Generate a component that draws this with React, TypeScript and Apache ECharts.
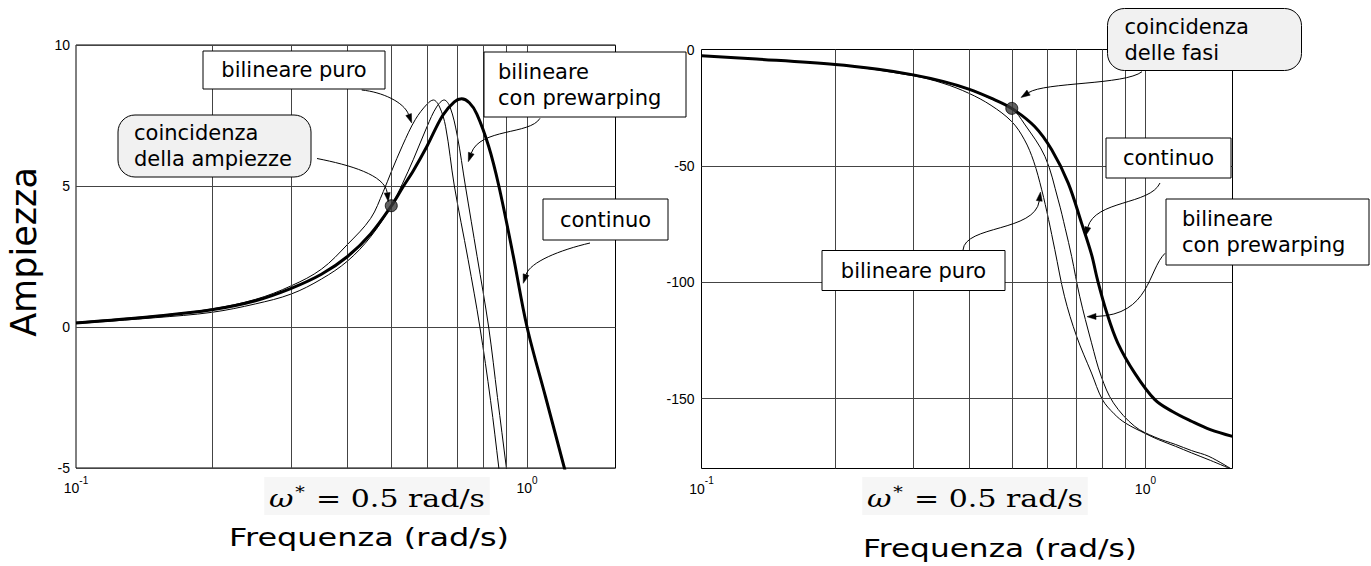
import React, { useEffect, useRef } from "react";
import * as echarts from "echarts";

// ---------------- data ----------------
const W_MIN = 0.1;
const W_MAX = 1.5708;
const FREQ_GRID = [0.2, 0.3, 0.4, 0.5, 0.6, 0.7, 0.8, 0.9, 1];
const AMP_MIN = -5;
const AMP_MAX = 10;
const AMP_STEP = 5;
const PHASE_MIN = -180;
const PHASE_MAX = 0;
const PHASE_STEP = 10;
const PHASE_LABEL_STEP = 50;
const PHASE_GRID = [-50, -100, -150];

// Amplitude (dB)
const ampContinuoW = [0.1, 0.15, 0.2, 0.25, 0.3, 0.35, 0.4, 0.45, 0.5, 0.53, 0.56, 0.6, 0.65, 0.69, 0.716, 0.745, 0.774, 0.822, 0.866, 0.93, 1.0, 1.1, 1.21, 1.3];
const ampContinuoDb = [0.14, 0.38, 0.61, 0.93, 1.37, 1.87, 2.5, 3.3, 4.29, 4.95, 5.55, 6.41, 7.5, 7.98, 8.09, 7.95, 7.55, 6.41, 5.0, 2.6, 0, -2.5, -5, -6.9];

const ampPuroW = [0.1, 0.15, 0.2, 0.25, 0.3, 0.35, 0.4, 0.45, 0.48, 0.5, 0.53, 0.565, 0.6, 0.62, 0.64, 0.66, 0.69, 0.74, 0.786, 0.83, 0.866, 0.92];
const ampPuroDb = [0.17, 0.4, 0.64, 0.98, 1.46, 2.05, 2.93, 3.85, 4.8, 5.5, 6.45, 7.35, 7.9, 8.05, 7.8, 7.1, 5.0, 2.4, 0, -2.6, -5, -8.5];

const ampPrewarpW = [0.1, 0.15, 0.2, 0.25, 0.3, 0.35, 0.4, 0.45, 0.5, 0.53, 0.56, 0.6, 0.63, 0.655, 0.675, 0.7, 0.73, 0.775, 0.822, 0.86, 0.9, 0.95];
const ampPrewarpDb = [0.12, 0.33, 0.52, 0.82, 1.17, 1.7, 2.34, 3.2, 4.29, 5.1, 5.95, 7.1, 7.8, 8.05, 7.8, 6.8, 5.0, 2.5, 0, -2.5, -5, -8];

// Phase (deg)
const phContinuoW = [0.1, 0.133, 0.2, 0.25, 0.3, 0.35, 0.4, 0.449, 0.5, 0.563, 0.615, 0.67, 0.718, 0.756, 0.78, 0.818, 0.866, 0.946, 1.05, 1.15, 1.27, 1.4, 1.5708];
const phContinuoDeg = [-2.7, -4.1, -6.4, -8.5, -10.9, -13.7, -17, -20.9, -25.3, -33.1, -43.1, -57.4, -74.6, -88, -99, -113, -126, -139, -150.4, -155.5, -159.7, -163.3, -166.2];

const phPuroW = [0.1, 0.2, 0.3, 0.35, 0.4, 0.449, 0.5, 0.534, 0.56, 0.584, 0.605, 0.625, 0.657, 0.7, 0.756, 0.8, 0.85, 0.9, 1.0, 1.07, 1.17, 1.27, 1.4, 1.5708];
const phPuroDeg = [-2.7, -6.5, -11.3, -14.5, -18.8, -24, -31, -38.8, -48, -60.3, -73, -86, -106, -123.3, -139, -150.4, -156.5, -160.4, -165, -167.6, -170.5, -173.3, -176.5, -180.5];

const phPrewarpW = [0.1, 0.2, 0.3, 0.4, 0.449, 0.5, 0.534, 0.594, 0.636, 0.66, 0.682, 0.711, 0.756, 0.795, 0.847, 0.946, 1.05, 1.17, 1.27, 1.39, 1.5708];
const phPrewarpDeg = [-2.7, -6.4, -10.9, -17.2, -21.2, -25.3, -32, -46, -64.6, -77, -88.9, -106, -126, -140.4, -151.8, -161.9, -166.5, -169.7, -172.3, -174.8, -180.5];

// coincidence points (w* = 0.5 rad/s)
const ampMarker = [0.5, 4.3];
const phaseMarker = [0.5, -25.3];

// ---------------- styles ----------------
const SANS = "'DejaVu Sans', 'Noto Sans', sans-serif";
const ARIAL = "'Liberation Sans', Arial, sans-serif";
const SERIF = "'DejaVu Serif', 'Liberation Serif', serif";
const GRID_COLOR = "#444";

function curve(xi: number, w: number[], v: number[], width: number) {
  return {
    type: "line",
    xAxisIndex: xi,
    yAxisIndex: xi,
    data: w.map((x, i) => [x, v[i]]),
    showSymbol: false,
    symbol: "none",
    smooth: 0.35,
    silent: true,
    clip: true,
    lineStyle: { color: "#000", width },
    z: width > 2 ? 5 : 4,
  };
}

function gridLines(xi: number, xs: number[], ys: number[]) {
  return {
    type: "line",
    xAxisIndex: xi,
    yAxisIndex: xi,
    data: [[W_MIN, xi === 0 ? 0 : -50]],
    symbol: "none",
    showSymbol: false,
    lineStyle: { opacity: 0 },
    silent: true,
    z: 1,
    markLine: {
      silent: true,
      symbol: ["none", "none"],
      label: { show: false },
      lineStyle: { color: GRID_COLOR, width: 1, type: "solid" },
      emphasis: { disabled: true },
      data: [...xs.map((x) => ({ xAxis: x })), ...ys.map((y) => ({ yAxis: y }))],
    },
  };
}

function marker(xi: number, p: number[]) {
  return {
    type: "scatter",
    xAxisIndex: xi,
    yAxisIndex: xi,
    data: [p],
    symbol: "circle",
    symbolSize: 12,
    silent: true,
    itemStyle: { color: "#3a3a3a", borderColor: "#000", borderWidth: 1 },
    z: 6,
  };
}

function xAxis(gi: number) {
  return {
    type: "log",
    logBase: 10,
    gridIndex: gi,
    min: W_MIN,
    max: W_MAX,
    axisLine: { show: false },
    axisTick: { show: false },
    splitLine: { show: false },
    axisLabel: {
      margin: 7,
      showMaxLabel: false,
      formatter: (v: number) => {
        const l = Math.log10(v);
        const e = Math.round(l);
        if (Math.abs(l - e) > 1e-6) return "";
        return `{b|10}{s|${e}}`;
      },
      rich: {
        b: { fontFamily: ARIAL, fontSize: 14, color: "#000", lineHeight: 20, verticalAlign: "bottom" },
        s: { fontFamily: ARIAL, fontSize: 10, color: "#000", lineHeight: 10, verticalAlign: "top" },
      },
    },
  };
}

function boxEl(x: number, y: number, w: number, h: number, text: string, opt: { round?: boolean; left?: number }) {
  const els: any[] = [
    {
      type: "rect",
      shape: { x, y, width: w, height: h, r: opt.round ? 17 : 0 },
      style: { fill: opt.round ? "#f1f1f1" : "#fff", stroke: "#000", lineWidth: 1 },
      z: 100,
    },
  ];
  const centered = opt.left === undefined;
  els.push({
    type: "text",
    x: centered ? x + w / 2 : x + (opt.left as number),
    y: y + h / 2,
    style: {
      text,
      fontFamily: SANS,
      fontSize: 21,
      lineHeight: 26,
      fill: "#000",
      align: centered ? "center" : "left",
      textAlign: centered ? "center" : "left",
      verticalAlign: "middle",
      textVerticalAlign: "middle",
    },
    z: 101,
  });
  return els;
}

function arrowEl(p: number[][]) {
  const [s, c1, c2, e] = p;
  const ang = Math.atan2(e[1] - c2[1], e[0] - c2[0]);
  const L = 9;
  const hw = 3;
  const bx = e[0] - L * Math.cos(ang);
  const by = e[1] - L * Math.sin(ang);
  const nx = -Math.sin(ang) * hw;
  const ny = Math.cos(ang) * hw;
  return [
    {
      type: "bezierCurve",
      shape: { x1: s[0], y1: s[1], cpx1: c1[0], cpy1: c1[1], cpx2: c2[0], cpy2: c2[1], x2: bx, y2: by },
      style: { stroke: "#000", lineWidth: 1, fill: null },
      z: 102,
    },
    {
      type: "polygon",
      shape: { points: [[e[0], e[1]], [bx + nx, by + ny], [bx - nx, by - ny]] },
      style: { fill: "#000", stroke: "#000", lineWidth: 0.5 },
      z: 102,
    },
  ];
}

function titleText(x: number, y: number, text: string, size: number, scaleX: number) {
  return {
    type: "text",
    x,
    y,
    scaleX,
    style: {
      text,
      fontFamily: SANS,
      fontSize: size,
      fill: "#000",
      align: "center",
      textAlign: "center",
      verticalAlign: "middle",
      textVerticalAlign: "middle",
    },
    z: 50,
  };
}

function mathText(x: number, y: number) {
  return {
    type: "text",
    x,
    y,
    scaleX: 1.2,
    style: {
      text: "{w|ω}{s|∗}{t| = 0.5 rad/s}",
      fill: "#000",
      align: "center",
      textAlign: "center",
      verticalAlign: "middle",
      textVerticalAlign: "middle",
      backgroundColor: "#f6f6f6",
      padding: [4, 4, 4, 4],
      rich: {
        w: { fontFamily: SERIF, fontSize: 25, fontStyle: "italic", lineHeight: 30, verticalAlign: "bottom", fill: "#000" },
        s: { fontFamily: SERIF, fontSize: 16, lineHeight: 16, verticalAlign: "top", fill: "#000" },
        t: { fontFamily: SERIF, fontSize: 25, lineHeight: 30, verticalAlign: "bottom", fill: "#000" },
      },
    },
    z: 50,
  };
}

export default function App() {
  const ref = useRef<HTMLDivElement>(null);

  useEffect(() => {
    if (!ref.current) return;
    const chart = echarts.init(ref.current, undefined, { renderer: "svg" });

    const graphic: any[] = [
      // axis titles
      {
        type: "text",
        x: 24,
        y: 252,
        rotation: Math.PI / 2,
        style: {
          text: "Ampiezza",
          fontFamily: SANS,
          fontSize: 35,
          fill: "#000",
          align: "center",
          textAlign: "center",
          verticalAlign: "middle",
          textVerticalAlign: "middle",
        },
        z: 50,
      },
      titleText(369, 538, "Frequenza (rad/s)", 24, 1.33),
      titleText(1000, 549, "Frequenza (rad/s)", 24, 1.3),
      mathText(377, 496),
      mathText(975, 496),
      // left panel annotations
      ...boxEl(203, 51, 182, 38, "bilineare puro", {}),
      ...boxEl(484, 52, 202, 65, "bilineare\ncon prewarping", { left: 14 }),
      ...boxEl(118, 115, 193, 62, "coincidenza\ndella ampiezze", { round: true, left: 16 }),
      ...boxEl(543, 199, 125, 41, "continuo", {}),
      ...arrowEl([[361.7, 90], [382, 92], [404, 102], [411.7, 123]]),
      ...arrowEl([[317, 158.5], [350, 165], [385, 175], [388.3, 201.7]]),
      ...arrowEl([[540, 118.3], [530, 135], [480, 128], [468.3, 161.7]]),
      ...arrowEl([[590, 243], [560, 250], [530, 262], [523.3, 283.3]]),
      // right panel annotations
      ...boxEl(1107.5, 8.5, 194, 62, "coincidenza\ndelle fasi", { round: true, left: 17 }),
      ...boxEl(1106, 138, 125, 40, "continuo", {}),
      ...boxEl(1166, 199, 203, 66, "bilineare\ncon prewarping", { left: 16 }),
      ...boxEl(822, 250.5, 183, 40, "bilineare puro", {}),
      ...arrowEl([[1142, 71.7], [1125, 85], [1045, 82], [1021, 97.5]]),
      ...arrowEl([[1160, 183], [1150, 205], [1095, 200], [1085.5, 236]]),
      ...arrowEl([[1165, 253.3], [1148, 270], [1150, 315], [1087, 316.7]]),
      ...arrowEl([[963, 250], [965, 225], [1035, 232], [1040.5, 192]]),
    ];

    const option: any = {
      animation: false,
      backgroundColor: "#fff",
      grid: [
        { left: 76, top: 45, width: 539.5, height: 423, show: true, borderColor: "#000", borderWidth: 1, backgroundColor: "transparent" },
        { left: 701.5, top: 49.5, width: 531, height: 419, show: true, borderColor: "#000", borderWidth: 1, backgroundColor: "transparent" },
      ],
      xAxis: [xAxis(0), xAxis(1)],
      yAxis: [
        {
          type: "value",
          gridIndex: 0,
          min: AMP_MIN,
          max: AMP_MAX,
          interval: AMP_STEP,
          axisLine: { show: false },
          axisTick: { show: false },
          splitLine: { show: true, lineStyle: { color: GRID_COLOR, width: 1 } },
          axisLabel: { fontFamily: ARIAL, fontSize: 14, color: "#000", margin: 6 },
        },
        {
          type: "value",
          gridIndex: 1,
          min: PHASE_MIN,
          max: PHASE_MAX,
          interval: PHASE_STEP,
          axisLine: { show: false },
          axisTick: { show: false },
          splitLine: { show: false },
          axisLabel: {
            fontFamily: ARIAL,
            fontSize: 14,
            color: "#000",
            margin: 7,
            formatter: (v: number) => (Math.abs(v % PHASE_LABEL_STEP) < 1e-9 ? String(v) : ""),
          },
        },
      ],
      series: [
        gridLines(0, FREQ_GRID, []),
        gridLines(1, FREQ_GRID, PHASE_GRID),
        curve(0, ampPuroW, ampPuroDb, 1),
        curve(0, ampPrewarpW, ampPrewarpDb, 1),
        curve(0, ampContinuoW, ampContinuoDb, 3),
        marker(0, ampMarker),
        curve(1, phPuroW, phPuroDeg, 1),
        curve(1, phPrewarpW, phPrewarpDeg, 1),
        curve(1, phContinuoW, phContinuoDeg, 3),
        marker(1, phaseMarker),
      ],
      graphic,
    };

    chart.setOption(option);
    return () => chart.dispose();
  }, []);

  return (
    <div
      ref={ref}
      style={{ position: "absolute", left: 0, top: 0, width: "1371px", height: "566px", background: "#fff" }}
    />
  );
}
